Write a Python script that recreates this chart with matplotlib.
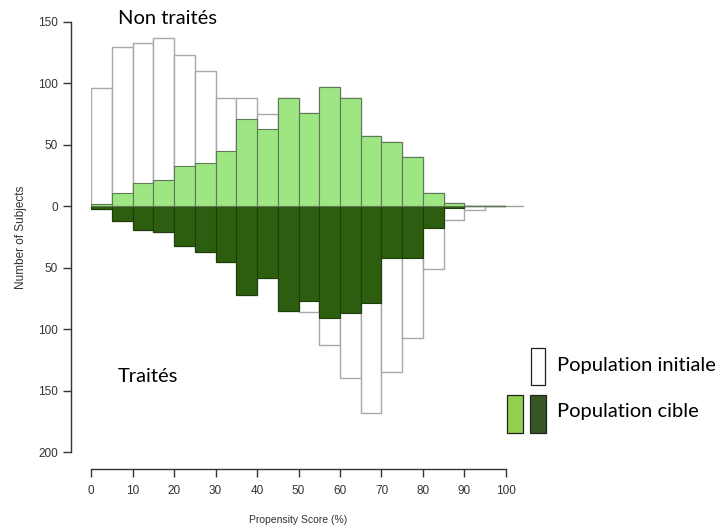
import numpy as np
import matplotlib
matplotlib.use("Agg")
import matplotlib.pyplot as plt
from matplotlib.patches import Rectangle
from matplotlib.ticker import FuncFormatter

# bins de 5 points de score de propension
bin_left = np.arange(0, 100, 5)

# non traités (au-dessus de 0)
untreated_all = [96, 130, 133, 137, 123, 110, 88, 88, 75, 88, 76, 97, 88, 57, 52, 40, 11, 3, 0, 0]
untreated_matched = [2, 11, 19, 21, 33, 35, 45, 71, 63, 88, 76, 97, 88, 57, 52, 40, 11, 3, 0, 0]

# traités (en dessous de 0)
treated_all = [2, 12, 19, 21, 32, 37, 45, 72, 58, 85, 86, 113, 140, 168, 135, 107, 51, 11, 3, 0]
treated_matched = [2, 12, 19, 21, 32, 37, 45, 72, 58, 85, 77, 91, 87, 79, 42, 42, 18, 1, 0, 0]

x_ticks = list(range(0, 101, 10))
y_ticks = [-200, -150, -100, -50, 0, 50, 100, 150]

light_green = "#9ee584"
dark_green = "#2d5d0e"
legend_light = "#92d050"
legend_dark = "#375623"

W, H = 723, 526
fig = plt.figure(figsize=(W / 100, H / 100), dpi=100)
ax = fig.add_axes([91 / W, (H - 452) / H, 415 / W, 430 / H])

# barres : population initiale en blanc, population cible en vert
ax.bar(bin_left, [-v for v in treated_all], width=5, align='edge',
       facecolor='white', edgecolor='#a8a8a8', linewidth=1.0, zorder=1)
ax.bar(bin_left, [-v for v in treated_matched], width=5, align='edge',
       facecolor=dark_green, edgecolor='#1e3d0b', linewidth=0.8, zorder=2)
ax.bar(bin_left, untreated_all, width=5, align='edge',
       facecolor='white', edgecolor='#a8a8a8', linewidth=1.0, zorder=1)
ax.bar(bin_left, untreated_matched, width=5, align='edge',
       facecolor=light_green, edgecolor='#5d7a52', linewidth=0.8, zorder=2)

ax.plot([0, 104], [0, 0], color='#a0a0a0', linewidth=1.0, zorder=0.5, clip_on=False)

ax.set_xlim(0, 100)
ax.set_ylim(-200, 150)
ax.set_xticks(x_ticks)
ax.set_yticks(y_ticks)
ax.yaxis.set_major_formatter(FuncFormatter(lambda v, p: f"{abs(int(v))}"))

for s in ['top', 'right']:
    ax.spines[s].set_visible(False)
ax.spines['left'].set_position(('outward', 14.4))
ax.spines['bottom'].set_position(('outward', 12.2))
ax.spines['left'].set_bounds(-200, 150)
ax.spines['bottom'].set_bounds(0, 100)
for s in ['left', 'bottom']:
    ax.spines[s].set_color('#333333')
    ax.spines[s].set_linewidth(1.0)
ax.tick_params(axis='both', direction='out', length=5.5, width=1.0,
               color='#333333', labelsize=8.5, labelcolor='#333333')
ax.tick_params(axis='y', pad=4)
ax.tick_params(axis='x', pad=6)
for lab in ax.get_xticklabels() + ax.get_yticklabels():
    lab.set_family('Liberation Sans')

ax.set_xlabel("Propensity Score (%)", fontsize=7.5, color='#333333',
              family='Liberation Sans', labelpad=13)
ax.set_ylabel("Number of Subjects", fontsize=8.5, color='#333333',
              family='Liberation Sans', labelpad=8)

# annotations
def px(x, y):
    return x / W, 1 - y / H

fig.text(*px(118, 18), "Non traités", fontsize=14.5, family='Lato', va='center', ha='left')
fig.text(*px(118, 376), "Traités", fontsize=14.5, family='Lato', va='center', ha='left')
fig.text(*px(557, 365), "Population initiale", fontsize=14.5, family='Lato', va='center', ha='left')
fig.text(*px(557, 411), "Population cible", fontsize=14.5, family='Lato', va='center', ha='left')

# légende faite à la main
def swatch(x0, y0, x1, y1, color):
    fig.patches.append(Rectangle((x0 / W, 1 - y1 / H), (x1 - x0) / W, (y1 - y0) / H,
                                 transform=fig.transFigure, facecolor=color,
                                 edgecolor='#222222', linewidth=0.9))

swatch(531, 348, 545, 385, 'white')
swatch(507, 395, 523, 433, legend_light)
swatch(530, 395, 546, 433, legend_dark)

fig.savefig("out.png", dpi=100)
